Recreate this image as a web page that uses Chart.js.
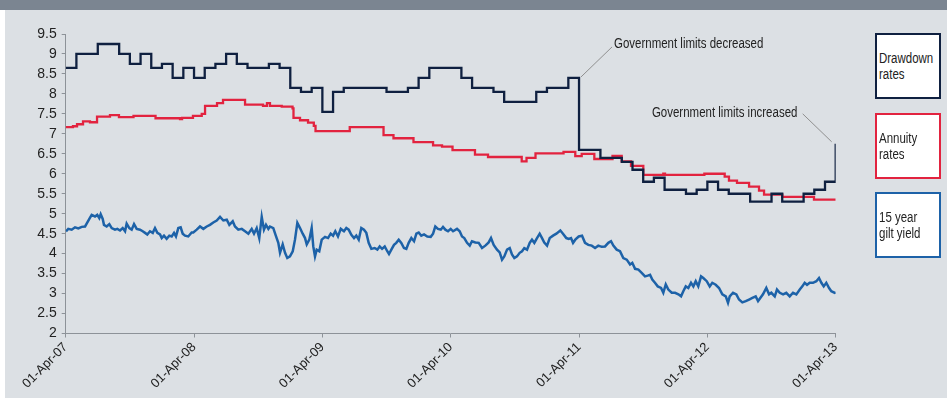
<!DOCTYPE html>
<html>
<head>
<meta charset="utf-8">
<script src="https://cdn.jsdelivr.net/npm/chart.js@4.4.1/dist/chart.umd.min.js"></script>
<style>
  html, body { margin: 0; padding: 0; background: #ffffff; }
  #page { position: absolute; left: 0; top: 0; width: 947px; height: 398px; overflow: hidden; }
  #panel { position: absolute; left: 5px; top: 0; width: 942px; height: 398px; background: #dce0e4; }
  #topbar { position: absolute; left: 0; top: 0; width: 947px; height: 10px; background: #7b8591; }
  #wrap { position: absolute; left: 0; top: 0; width: 947px; height: 398px; }
  .lbl { position: absolute; font-family: 'Liberation Sans', Arial, sans-serif; font-size: 14px; line-height: 16px; color: #222; white-space: nowrap; transform: scaleX(0.82); }
  .box { position: absolute; left: 875px; width: 66px; height: 66px; box-sizing: border-box; border: 2px solid #000; background: #fff;
         display: flex; flex-direction: column; justify-content: center; padding-left: 2px;
         font-family: 'Liberation Sans', Arial, sans-serif; font-size: 14px; line-height: 16px; color: #222; }
  .box div { white-space: nowrap; transform: scaleX(0.82); transform-origin: left center; }
</style>
</head>
<body>
<div id="page">
  <div id="panel"></div>
  <div id="topbar"></div>
  <div id="wrap"><canvas id="c" width="947" height="398"></canvas></div>
  <div class="box" style="top:33px;border-color:#0f2040;"><div>Drawdown</div><div>rates</div></div>
  <div class="box" style="top:113px;border-color:#e2233f;"><div>Annuity</div><div>rates</div></div>
  <div class="box" style="top:192px;border-color:#1d62a8;"><div>15 year</div><div>gilt yield</div></div>
  <div class="lbl" id="ann1" style="transform-origin:left center;">Government limits decreased</div>
  <div class="lbl" id="ann2" style="transform-origin:right center;">Government limits increased</div>
</div>
<script>
// X axis: months since 01-Apr-07
const tickMonths = [0, 12, 24, 36, 48, 60, 72];
const tickLabels = ['01-Apr-07', '01-Apr-08', '01-Apr-09', '01-Apr-10', '01-Apr-11', '01-Apr-12', '01-Apr-13'];

// Drawdown rates: one value per month (month 0 .. 72)
const drawdownRates = [
  8.65, 9.0, 9.0, 9.25, 9.25, 9.0, 8.75, 9.0, 8.65, 8.75, 8.4, 8.65,
  8.4, 8.65, 8.75, 9.0, 8.75, 8.65, 8.65, 8.75, 8.65, 8.15, 8.05, 8.15,
  7.55, 8.05, 8.15, 8.15, 8.15, 8.15, 8.05, 8.05, 8.15, 8.4, 8.65, 8.65,
  8.65, 8.4, 8.15, 8.15, 8.05, 7.8, 7.8, 7.8, 8.05, 8.15, 8.15, 8.4,
  6.6, 6.6, 6.4, 6.4, 6.3, 6.1, 5.8, 5.9, 5.6, 5.6, 5.5, 5.6,
  5.8, 5.6, 5.5, 5.5, 5.3, 5.3, 5.5, 5.3, 5.3, 5.5, 5.6, 5.8,
  6.75
];

// Annuity rates: change points (months) and values
const annuityMonths = [0.00, 0.68, 1.06, 1.62, 2.27, 2.93, 4.14, 4.98, 6.34, 8.40, 10.69, 10.88, 11.90, 12.72, 13.03, 14.15, 14.71, 16.77, 18.45, 18.82, 19.10, 20.20, 21.21, 21.30, 21.91, 22.66, 23.20, 23.36, 26.56, 29.72, 30.65, 32.52, 34.35, 35.19, 36.17, 38.27, 39.49, 42.64, 43.09, 43.93, 46.55, 47.65, 48.25, 49.43, 51.13, 51.99, 52.86, 54.01, 55.88, 56.04, 59.72, 61.62, 62.02, 62.77, 63.90, 64.83, 65.30, 67.01, 69.97, 72.00];
const annuityRates  = [7.17, 7.19, 7.24, 7.31, 7.29, 7.43, 7.47, 7.42, 7.45, 7.39, 7.37, 7.40, 7.45, 7.50, 7.70, 7.77, 7.85, 7.73, 7.70, 7.77, 7.70, 7.68, 7.64, 7.40, 7.34, 7.28, 7.20, 7.07, 7.17, 6.97, 6.89, 6.79, 6.71, 6.68, 6.59, 6.48, 6.42, 6.31, 6.40, 6.51, 6.55, 6.44, 6.50, 6.37, 6.45, 6.31, 6.20, 5.97, 6.00, 5.97, 6.00, 5.93, 5.83, 5.77, 5.68, 5.58, 5.48, 5.42, 5.35, 5.35];

// 15 year gilt yield: months and values
const giltMonths = [0.03, 0.24, 0.56, 0.87, 1.18, 1.50, 1.81, 1.96, 2.21, 2.43, 2.74, 2.95, 3.14, 3.27, 3.46, 3.58, 3.83, 4.08, 4.30, 4.61, 4.83, 5.08, 5.33, 5.55, 5.70, 5.95, 6.17, 6.39, 6.64, 6.95, 7.20, 7.42, 7.63, 7.88, 8.14, 8.35, 8.57, 8.82, 8.98, 9.19, 9.44, 9.69, 9.91, 10.13, 10.31, 10.53, 10.75, 10.94, 11.16, 11.46, 11.78,
  11.93, 12.25, 12.56, 12.87, 13.19, 13.49, 13.80, 14.12, 14.43, 14.74, 15.06, 15.30, 15.62, 15.83, 16.14, 16.46, 16.77, 17.08, 17.39, 17.61, 17.86, 18.10, 18.33, 18.54, 18.73, 18.95, 19.10, 19.41, 19.67, 19.88, 20.04, 20.29, 20.51, 20.72, 20.97, 21.23, 21.44, 21.66, 21.91, 22.16, 22.38, 22.54, 22.78, 23.00, 23.15, 23.31, 23.47, 23.71, 23.94, 24.25,
  24.53, 24.78, 25.00, 25.21, 25.46, 25.72, 26.02, 26.24, 26.46, 26.71, 26.96, 27.17, 27.40, 27.64, 27.89, 28.11, 28.33, 28.58, 28.89, 29.14, 29.36, 29.58, 29.83, 30.07, 30.23, 30.45, 30.70, 30.91, 31.14, 31.38, 31.63, 31.85, 32.07, 32.32, 32.57, 32.79, 33.01, 33.25, 33.51, 33.81, 34.13, 34.35, 34.56, 34.81, 35.07, 35.28, 35.50, 35.75, 36.00, 36.22,
  36.59, 36.84, 37.06, 37.27, 37.53, 37.78, 37.99, 38.30, 38.62, 38.93, 39.24, 39.55, 39.77, 40.02, 40.33, 40.58, 40.80, 41.01, 41.27, 41.52, 41.73, 41.95, 42.20, 42.45, 42.67, 42.88, 43.14, 43.39, 43.60, 43.82, 44.07, 44.32, 44.54, 44.75, 45.01, 45.26, 45.57, 45.88, 46.25, 46.50, 46.81, 47.04, 47.25, 47.44, 47.65, 47.97, 48.28,
  48.56, 48.87, 49.19, 49.50, 49.80, 50.12, 50.43, 50.74, 50.99, 51.21, 51.52, 51.83, 52.14, 52.46, 52.77, 52.98, 53.24, 53.55, 53.86, 54.17, 54.42, 54.64, 54.85, 55.10, 55.36, 55.67, 55.88, 56.11, 56.35, 56.67, 56.98, 57.29, 57.54, 57.75, 57.98, 58.22, 58.47, 58.69, 58.91, 59.15, 59.41, 59.62, 59.94,
  60.22, 60.46, 60.78, 61.09, 61.40, 61.72, 61.93, 62.09, 62.40, 62.71, 62.96, 63.27, 63.59, 63.90, 64.21, 64.52, 64.74, 64.95, 65.20, 65.51, 65.77, 65.98, 66.30, 66.51, 66.77, 67.08, 67.38, 67.70, 68.01, 68.32, 68.64, 68.88, 69.10, 69.32, 69.57, 69.88, 70.19, 70.44, 70.66, 70.88, 71.12, 71.38, 71.59, 71.91, 72.00];
const giltYield = [4.56, 4.62, 4.60, 4.66, 4.63, 4.67, 4.68, 4.75, 4.87, 4.97, 4.93, 4.97, 4.89, 4.99, 4.87, 4.72, 4.68, 4.74, 4.64, 4.60, 4.62, 4.58, 4.64, 4.56, 4.75, 4.64, 4.60, 4.74, 4.62, 4.60, 4.56, 4.52, 4.48, 4.56, 4.52, 4.64, 4.52, 4.48, 4.39, 4.45, 4.37, 4.45, 4.43, 4.52, 4.43, 4.64, 4.66, 4.50, 4.45, 4.43, 4.53,
  4.53, 4.60, 4.68, 4.62, 4.68, 4.72, 4.78, 4.83, 4.92, 4.83, 4.85, 4.72, 4.81, 4.68, 4.60, 4.62, 4.56, 4.50, 4.62, 4.50, 4.64, 4.39, 4.92, 4.60, 4.72, 4.62, 4.68, 4.64, 4.43, 4.27, 4.02, 4.23, 4.02, 3.89, 3.93, 4.06, 4.35, 4.77, 4.64, 4.50, 4.39, 4.23, 4.35, 4.64, 4.18, 3.93, 4.10, 4.06, 4.35, 4.42,
  4.39, 4.50, 4.45, 4.56, 4.43, 4.62, 4.56, 4.64, 4.60, 4.47, 4.39, 4.45, 4.35, 4.64, 4.60, 4.52, 4.27, 4.12, 4.14, 4.10, 4.18, 4.12, 4.18, 4.06, 3.99, 4.10, 4.22, 4.27, 4.35, 4.27, 4.14, 4.12, 4.27, 4.39, 4.31, 4.50, 4.53, 4.45, 4.48, 4.43, 4.42, 4.50, 4.68, 4.62, 4.60, 4.67, 4.60, 4.56, 4.62, 4.56,
  4.62, 4.56, 4.43, 4.39, 4.27, 4.20, 4.31, 4.28, 4.27, 4.14, 4.20, 4.28, 4.39, 4.22, 4.10, 4.03, 3.85, 3.93, 4.10, 4.14, 3.98, 3.89, 3.93, 4.02, 4.06, 4.14, 4.10, 4.27, 4.35, 4.27, 4.39, 4.50, 4.39, 4.28, 4.20, 4.39, 4.45, 4.50, 4.58, 4.50, 4.39, 4.37, 4.39, 4.27, 4.35, 4.43, 4.45,
  4.27, 4.22, 4.20, 4.14, 4.20, 4.17, 4.18, 4.27, 4.31, 4.20, 4.10, 4.06, 3.89, 3.85, 3.73, 3.77, 3.62, 3.60, 3.52, 3.43, 3.45, 3.47, 3.35, 3.27, 3.18, 3.14, 3.02, 3.23, 3.10, 3.02, 3.02, 2.98, 2.93, 3.06, 3.18, 3.14, 3.27, 3.18, 3.31, 3.18, 3.43, 3.39, 3.31,
  3.18, 3.27, 3.22, 3.14, 2.98, 2.93, 2.77, 2.93, 3.02, 2.98, 2.85, 2.78, 2.81, 2.85, 2.89, 2.93, 2.81, 2.89, 2.98, 3.14, 2.98, 3.02, 2.93, 3.10, 3.02, 2.98, 3.02, 2.93, 3.02, 2.98, 3.10, 3.18, 3.27, 3.22, 3.27, 3.27, 3.31, 3.39, 3.27, 3.18, 3.27, 3.14, 3.06, 3.02, 3.03];

const pairs = (xs, ys) => xs.map((x, i) => ({ x: x, y: ys[i] }));
const drawdownPoints = drawdownRates.map((v, i) => ({ x: i, y: v }));

const AXIS = '#8d9298';
const TICKFONT = "'Liberation Sans', Arial, sans-serif";

// Annotations: anchor at a data point, connector + html label
const annotations = [
  { id: 'ann1', x: 48, y: 8.4, from: [2, -1], to: [33, -31], textAt: [35, -35], align: 'left' },
  { id: 'ann2', x: 72, y: 6.75, from: [-4, -2], to: [-33, -30], textAt: [-39, -32], align: 'right' }
];

const annotationPlugin = {
  id: 'callouts',
  afterDatasetsDraw(chart) {
    const ctx = chart.ctx;
    const xs = chart.scales.x, ys = chart.scales.y;
    ctx.save();
    ctx.strokeStyle = '#8f8f8f';
    ctx.lineWidth = 1;
    annotations.forEach(a => {
      const px = xs.getPixelForValue(a.x), py = ys.getPixelForValue(a.y);
      ctx.beginPath();
      ctx.moveTo(px + a.from[0], py + a.from[1]);
      ctx.lineTo(px + a.to[0], py + a.to[1]);
      ctx.stroke();
      const el = document.getElementById(a.id);
      const w = el.offsetWidth;
      const tx = a.align === 'left' ? px + a.textAt[0] : px + a.textAt[0] - w;
      el.style.left = tx + 'px';
      el.style.top = (py + a.textAt[1] - 8) + 'px';
    });
    ctx.restore();
  }
};

new Chart(document.getElementById('c'), {
  type: 'line',
  data: {
    datasets: [
      { label: 'Drawdown rates', data: drawdownPoints, borderColor: '#0f2040', borderWidth: 2.3, stepped: 'before', pointRadius: 0, fill: false },
      { label: 'Annuity rates', data: pairs(annuityMonths, annuityRates), borderColor: '#e2233f', borderWidth: 2.3, stepped: 'before', pointRadius: 0, fill: false },
      { label: '15 year gilt yield', data: pairs(giltMonths, giltYield), borderColor: '#1d62a8', borderWidth: 2.5, pointRadius: 0, tension: 0, fill: false }
    ]
  },
  options: {
    responsive: false,
    animation: false,
    devicePixelRatio: 1,
    layout: { padding: { left: 0, right: 111.3, top: 34, bottom: 0 } },
    plugins: { legend: { display: false }, tooltip: { enabled: false } },
    scales: {
      x: {
        type: 'linear', min: 0, max: 72,
        afterBuildTicks: s => { s.ticks = tickMonths.map(v => ({ value: v })); },
        afterFit: s => { s.height = 64.5; },
        ticks: {
          autoSkip: false, maxRotation: 45, minRotation: 45, padding: 2,
          color: '#222', font: { family: TICKFONT, size: 13 },
          callback: v => tickLabels[tickMonths.indexOf(v)]
        },
        grid: { drawOnChartArea: false, drawTicks: true, tickLength: 4, color: AXIS },
        border: { display: true, color: AXIS, width: 1 }
      },
      y: {
        min: 2, max: 9.5,
        afterFit: s => { s.width = 65.7; },
        ticks: { stepSize: 0.5, padding: 5, color: '#222', font: { family: TICKFONT, size: 14 }, callback: v => String(v) },
        grid: { drawOnChartArea: false, drawTicks: true, tickLength: 4, color: AXIS },
        border: { display: true, color: AXIS, width: 1 }
      }
    }
  },
  plugins: [annotationPlugin]
});
</script>
</body>
</html>
